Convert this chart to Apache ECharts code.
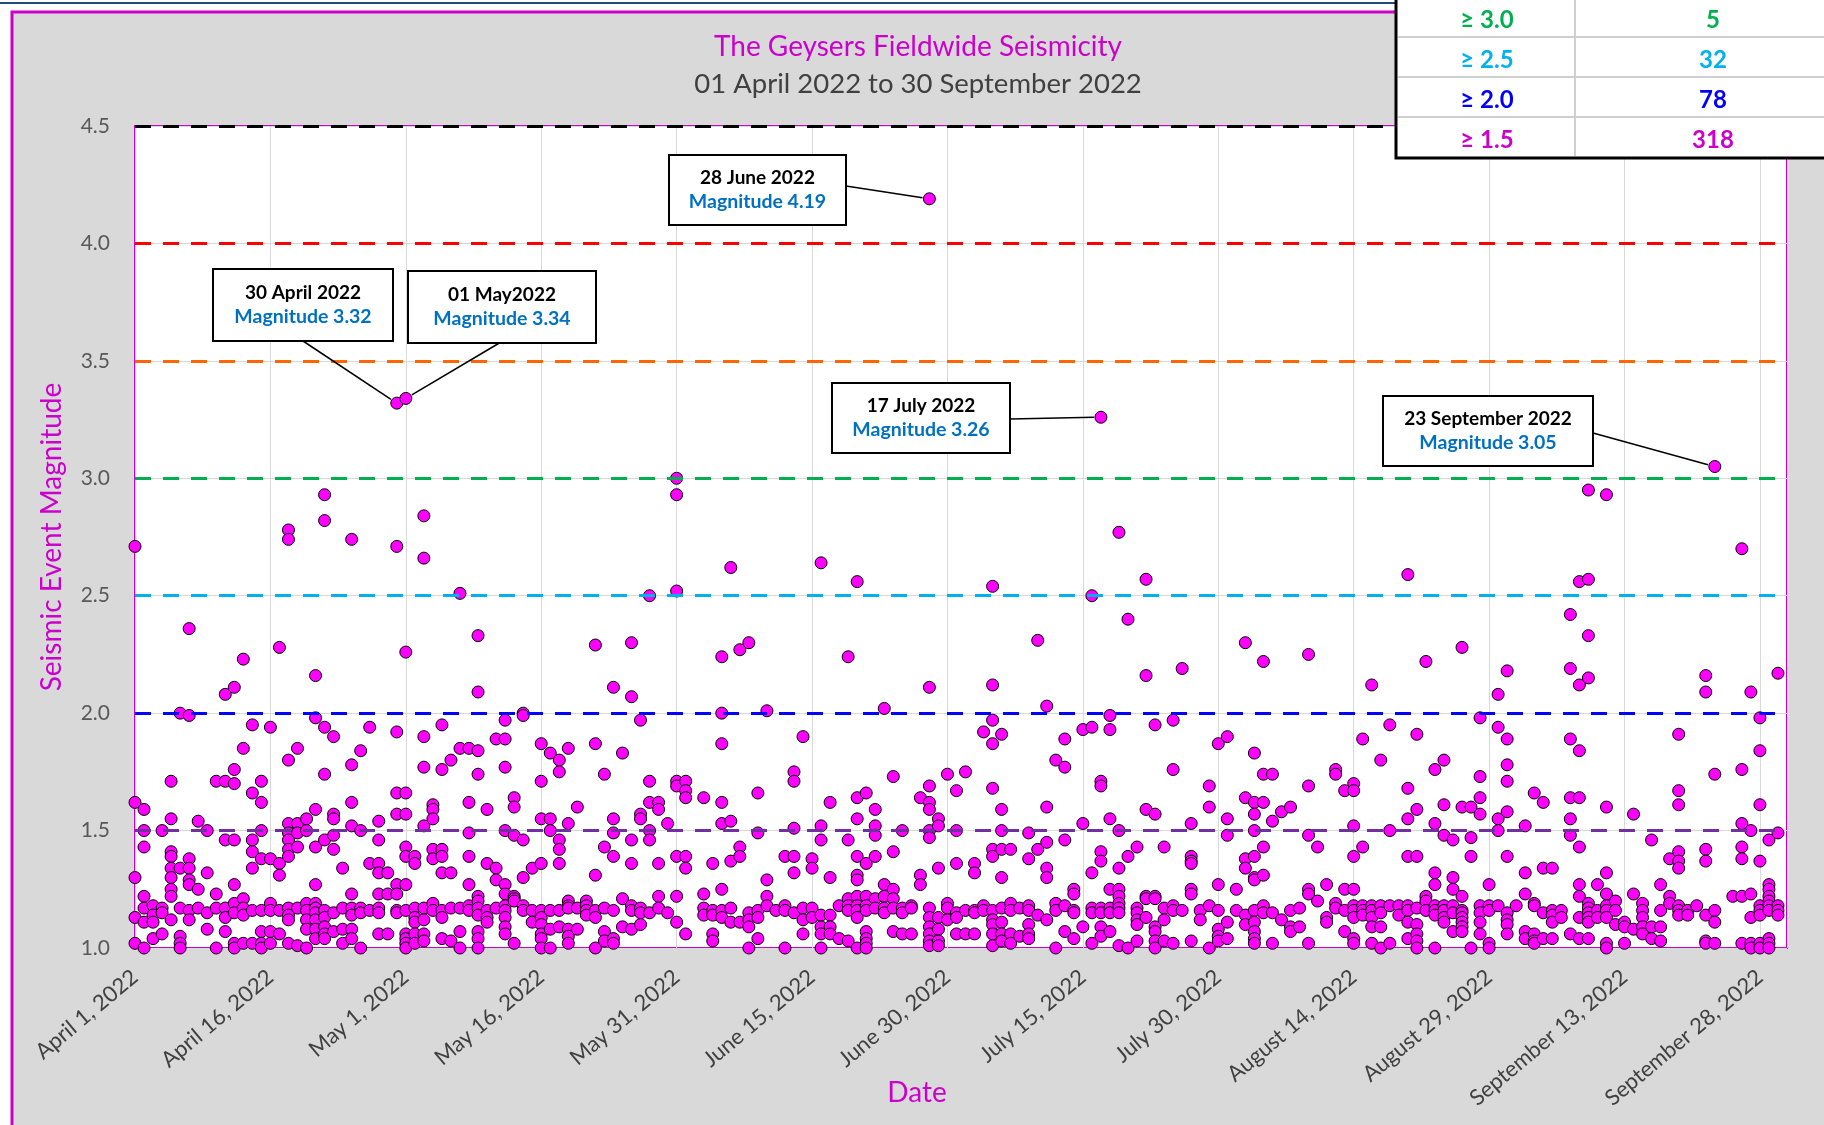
<!DOCTYPE html>
<html>
<head>
<meta charset="utf-8">
<title>The Geysers Fieldwide Seismicity</title>
<script src="https://cdn.jsdelivr.net/npm/echarts@6/dist/echarts.min.js"></script>
<style>
  html, body { margin: 0; padding: 0; background: #fff; }
  #main { width: 1824px; height: 1125px; }
</style>
</head>
<body>
<div id="main"></div>
<script>
// events per day: [day of month, magnitude, magnitude, ...]
const april = [
  [1, 2.71, 1.62, 1.30, 1.13, 1.02], [2, 1.59, 1.50, 1.43, 1.22, 1.17, 1.11, 1.00],
  [3, 1.18, 1.14, 1.11, 1.04], [4, 1.50, 1.17, 1.15, 1.06],
  [5, 1.71, 1.55, 1.41, 1.39, 1.34, 1.30, 1.25, 1.22, 1.12], [6, 2.00, 1.34, 1.17, 1.05, 1.02, 1.00],
  [7, 2.36, 1.99, 1.38, 1.34, 1.29, 1.27, 1.16, 1.12], [8, 1.54, 1.25, 1.17],
  [9, 1.50, 1.32, 1.15, 1.08], [10, 1.71, 1.23, 1.17, 1.00],
  [11, 2.08, 1.71, 1.46, 1.17, 1.13, 1.07], [12, 2.11, 1.76, 1.70, 1.46, 1.27, 1.19, 1.15, 1.02, 1.00],
  [13, 2.23, 1.85, 1.21, 1.17, 1.14, 1.02], [14, 1.95, 1.66, 1.46, 1.41, 1.34, 1.16, 1.02],
  [15, 1.71, 1.62, 1.50, 1.38, 1.16, 1.07, 1.02, 1.00], [16, 1.94, 1.38, 1.19, 1.16, 1.07, 1.02],
  [17, 2.28, 1.36, 1.31, 1.16, 1.06], [18, 2.78, 2.74, 1.80, 1.53, 1.49, 1.46, 1.42, 1.39, 1.17, 1.14, 1.12, 1.02],
  [19, 1.85, 1.53, 1.49, 1.43, 1.17, 1.01], [20, 1.55, 1.50, 1.19, 1.16, 1.12, 1.08, 1.00],
  [21, 2.16, 1.98, 1.59, 1.43, 1.27, 1.19, 1.17, 1.15, 1.12, 1.08, 1.04],
  [22, 2.93, 2.82, 1.94, 1.74, 1.46, 1.16, 1.13, 1.09, 1.06, 1.04],
  [23, 1.90, 1.57, 1.55, 1.48, 1.42, 1.15, 1.07], [24, 1.34, 1.17, 1.08, 1.02],
  [25, 2.74, 1.78, 1.62, 1.52, 1.23, 1.17, 1.14, 1.08, 1.04], [26, 1.84, 1.50, 1.17, 1.15, 1.00],
  [27, 1.94, 1.36, 1.16], [28, 1.54, 1.46, 1.36, 1.32, 1.23, 1.17, 1.15, 1.06],
  [29, 1.32, 1.23, 1.06], [30, 3.32, 2.71, 1.92, 1.66, 1.57, 1.27, 1.23, 1.16, 1.15]
];
const may = [
  [1, 3.34, 2.26, 1.66, 1.57, 1.43, 1.39, 1.27, 1.16, 1.06, 1.04, 1.02, 1.00],
  [2, 1.39, 1.36, 1.17, 1.13, 1.11, 1.06, 1.02], [3, 2.84, 2.66, 1.90, 1.77, 1.52, 1.17, 1.12, 1.06, 1.03],
  [4, 1.61, 1.59, 1.55, 1.42, 1.38, 1.19, 1.16], [5, 1.95, 1.76, 1.42, 1.39, 1.32, 1.16, 1.13, 1.04],
  [6, 1.80, 1.32, 1.17, 1.03], [7, 2.51, 1.85, 1.17, 1.07, 1.00],
  [8, 1.85, 1.62, 1.49, 1.39, 1.27, 1.18, 1.16], [9, 2.33, 2.09, 1.84, 1.74, 1.22, 1.20, 1.17, 1.14, 1.07, 1.04, 1.00],
  [10, 1.59, 1.36, 1.16, 1.13, 1.11], [11, 1.89, 1.34, 1.29, 1.17],
  [12, 1.97, 1.89, 1.77, 1.50, 1.27, 1.23, 1.18, 1.16, 1.13, 1.09, 1.06],
  [13, 1.64, 1.60, 1.48, 1.22, 1.21, 1.20, 1.02], [14, 2.00, 1.99, 1.46, 1.30, 1.18, 1.16],
  [15, 1.34, 1.16, 1.11], [16, 1.87, 1.71, 1.55, 1.36, 1.16, 1.13, 1.10, 1.06, 1.04, 1.00],
  [17, 1.83, 1.55, 1.50, 1.16, 1.08, 1.00], [18, 1.80, 1.75, 1.46, 1.42, 1.36, 1.16, 1.09],
  [19, 1.85, 1.53, 1.20, 1.18, 1.17, 1.08, 1.05, 1.02], [20, 1.60, 1.17, 1.08],
  [21, 1.20, 1.18, 1.16, 1.14], [22, 2.29, 1.87, 1.31, 1.16, 1.13, 1.00],
  [23, 1.74, 1.43, 1.17, 1.07, 1.03], [24, 2.11, 1.55, 1.49, 1.39, 1.16, 1.04, 1.02],
  [25, 1.83, 1.21, 1.09], [26, 2.30, 2.07, 1.46, 1.36, 1.18, 1.16, 1.08],
  [27, 1.97, 1.57, 1.55, 1.17, 1.15, 1.10], [28, 2.50, 1.71, 1.62, 1.50, 1.46, 1.15],
  [29, 1.62, 1.59, 1.36, 1.22, 1.17], [30, 1.53, 1.15],
  [31, 3.00, 2.93, 2.52, 1.71, 1.69, 1.39, 1.22, 1.11]
];
const june = [
  [1, 1.71, 1.67, 1.64, 1.39, 1.34, 1.06], [3, 1.64, 1.23, 1.17, 1.14],
  [4, 1.36, 1.16, 1.14, 1.06, 1.03], [5, 2.24, 2.00, 1.87, 1.62, 1.53, 1.25, 1.16, 1.13],
  [6, 2.62, 1.54, 1.37, 1.17, 1.11], [7, 2.27, 1.43, 1.39, 1.11],
  [8, 2.30, 1.15, 1.12, 1.09, 1.00], [9, 1.66, 1.49, 1.16, 1.13, 1.04],
  [10, 2.01, 1.29, 1.22, 1.18], [11, 1.16], [12, 1.39, 1.18, 1.16, 1.00],
  [13, 1.75, 1.71, 1.51, 1.39, 1.32, 1.15], [14, 1.90, 1.17, 1.12, 1.06],
  [15, 1.38, 1.34, 1.17, 1.13], [16, 2.64, 1.52, 1.46, 1.14, 1.09, 1.06, 1.00],
  [17, 1.62, 1.30, 1.14, 1.09, 1.06], [18, 1.18, 1.04],
  [19, 2.24, 1.46, 1.21, 1.18, 1.16, 1.03],
  [20, 2.56, 1.64, 1.55, 1.39, 1.31, 1.29, 1.22, 1.18, 1.16, 1.13, 1.00],
  [21, 1.66, 1.36, 1.22, 1.18, 1.16, 1.07, 1.04, 1.02, 1.00],
  [22, 1.59, 1.52, 1.48, 1.39, 1.21, 1.17], [23, 2.02, 1.27, 1.22, 1.17, 1.15],
  [24, 1.73, 1.41, 1.25, 1.21, 1.17, 1.07], [25, 1.50, 1.17, 1.15, 1.06],
  [26, 1.18, 1.17, 1.06], [27, 1.64, 1.31, 1.27],
  [28, 4.19, 2.11, 1.69, 1.62, 1.59, 1.50, 1.47, 1.17, 1.13, 1.09, 1.06, 1.03, 1.01],
  [29, 1.55, 1.52, 1.34, 1.13, 1.08, 1.03, 1.01], [30, 1.74, 1.19, 1.17, 1.12]
];
const july = [
  [1, 1.67, 1.50, 1.36, 1.15, 1.13, 1.06], [2, 1.75, 1.16, 1.06],
  [3, 1.36, 1.32, 1.16, 1.15, 1.06], [4, 1.92, 1.18, 1.16],
  [5, 2.54, 2.12, 1.97, 1.87, 1.68, 1.42, 1.39, 1.16, 1.12, 1.10, 1.06, 1.01],
  [6, 1.91, 1.59, 1.50, 1.42, 1.30, 1.17, 1.11, 1.06, 1.03], [7, 1.42, 1.19, 1.16, 1.06, 1.02],
  [8, 1.17, 1.05], [9, 1.49, 1.38, 1.18, 1.16, 1.10, 1.06, 1.04], [10, 2.31, 1.42, 1.14],
  [11, 2.03, 1.60, 1.45, 1.34, 1.30, 1.12], [12, 1.80, 1.19, 1.16, 1.00],
  [13, 1.89, 1.77, 1.46, 1.18, 1.07], [14, 1.25, 1.23, 1.16, 1.15, 1.04],
  [15, 1.93, 1.53, 1.09], [16, 2.50, 1.94, 1.32, 1.17, 1.15, 1.02],
  [17, 3.26, 1.71, 1.69, 1.41, 1.37, 1.17, 1.15, 1.09, 1.05],
  [18, 1.99, 1.93, 1.55, 1.25, 1.17, 1.15, 1.07],
  [19, 2.77, 1.50, 1.34, 1.25, 1.22, 1.19, 1.17, 1.15, 1.01], [20, 2.40, 1.39, 1.00],
  [21, 1.43, 1.17, 1.15, 1.12, 1.10, 1.03], [22, 2.57, 2.16, 1.59, 1.22, 1.21, 1.13],
  [23, 1.95, 1.57, 1.22, 1.21, 1.09, 1.07, 1.03, 1.00], [24, 1.43, 1.17, 1.12, 1.03],
  [25, 1.97, 1.76, 1.18, 1.16, 1.02], [26, 2.19, 1.16],
  [27, 1.53, 1.39, 1.37, 1.36, 1.25, 1.23, 1.03], [28, 1.16, 1.12],
  [29, 1.69, 1.60, 1.18, 1.00], [30, 1.87, 1.27, 1.16, 1.08, 1.05, 1.03],
  [31, 1.90, 1.55, 1.48, 1.11, 1.04]
];
const august = [
  [1, 1.25, 1.16], [2, 2.30, 1.64, 1.38, 1.34, 1.14, 1.10],
  [3, 1.83, 1.62, 1.57, 1.50, 1.39, 1.30, 1.29, 1.16, 1.11, 1.07, 1.04, 1.02],
  [4, 2.22, 1.74, 1.62, 1.43, 1.31, 1.18, 1.15], [5, 1.74, 1.54, 1.15, 1.02],
  [6, 1.58, 1.12], [7, 1.60, 1.16, 1.09, 1.07], [8, 1.17, 1.09],
  [9, 2.25, 1.69, 1.48, 1.25, 1.23, 1.02], [10, 1.43, 1.20], [11, 1.27, 1.13, 1.11],
  [12, 1.76, 1.74, 1.19, 1.17], [13, 1.67, 1.25, 1.16, 1.07],
  [14, 1.70, 1.67, 1.52, 1.39, 1.25, 1.18, 1.16, 1.13, 1.04, 1.02],
  [15, 1.89, 1.43, 1.18, 1.16, 1.14], [16, 2.12, 1.18, 1.16, 1.13, 1.09, 1.02],
  [17, 1.80, 1.18, 1.15, 1.09, 1.00], [18, 1.95, 1.50, 1.18, 1.02], [19, 1.18, 1.14],
  [20, 2.59, 1.68, 1.55, 1.39, 1.18, 1.16, 1.11, 1.04],
  [21, 1.91, 1.59, 1.39, 1.17, 1.10, 1.06, 1.03, 1.00], [22, 2.22, 1.22, 1.20, 1.16],
  [23, 1.76, 1.53, 1.32, 1.27, 1.18, 1.16, 1.14, 1.00],
  [24, 1.80, 1.61, 1.48, 1.18, 1.16, 1.13, 1.11], [25, 1.46, 1.30, 1.25, 1.18, 1.15, 1.07],
  [26, 2.28, 1.60, 1.22, 1.16, 1.15, 1.13, 1.11, 1.09, 1.07], [27, 1.60, 1.47, 1.39, 1.00],
  [28, 1.98, 1.73, 1.64, 1.57, 1.18, 1.15, 1.11, 1.06], [29, 1.27, 1.18, 1.16, 1.02, 1.00],
  [30, 2.08, 1.94, 1.55, 1.50, 1.18],
  [31, 2.18, 1.89, 1.78, 1.71, 1.58, 1.39, 1.15, 1.12, 1.10, 1.06]
];
const september = [
  [1, 1.18], [2, 1.52, 1.32, 1.23, 1.07, 1.04], [3, 1.66, 1.19, 1.18, 1.06, 1.03, 1.02],
  [4, 1.62, 1.34, 1.15, 1.04], [5, 1.34, 1.16, 1.14, 1.11, 1.04], [6, 1.16, 1.13],
  [7, 2.42, 2.19, 1.89, 1.64, 1.55, 1.48, 1.06],
  [8, 2.56, 2.12, 1.84, 1.64, 1.43, 1.27, 1.22, 1.13, 1.04],
  [9, 2.95, 2.57, 2.33, 2.15, 1.19, 1.17, 1.15, 1.13, 1.11, 1.04], [10, 1.27, 1.16, 1.13],
  [11, 2.93, 1.60, 1.32, 1.23, 1.18, 1.16, 1.13, 1.02, 1.00], [12, 1.20, 1.16, 1.10],
  [13, 1.11, 1.09, 1.02], [14, 1.57, 1.23, 1.08], [15, 1.19, 1.16, 1.13, 1.09, 1.06],
  [16, 1.46, 1.09, 1.04], [17, 1.27, 1.16, 1.09, 1.03], [18, 1.38, 1.22, 1.19],
  [19, 1.91, 1.67, 1.61, 1.41, 1.37, 1.34, 1.18, 1.16, 1.14], [20, 1.16, 1.14], [21, 1.18],
  [22, 2.16, 2.09, 1.42, 1.37, 1.14, 1.03, 1.02], [23, 3.05, 1.74, 1.16, 1.11, 1.02],
  [25, 1.22], [26, 2.70, 1.76, 1.53, 1.43, 1.38, 1.22, 1.02],
  [27, 2.09, 1.50, 1.23, 1.13, 1.02, 1.00],
  [28, 1.98, 1.84, 1.61, 1.37, 1.18, 1.16, 1.14, 1.02, 1.00],
  [29, 1.46, 1.27, 1.25, 1.22, 1.20, 1.18, 1.16, 1.04, 1.02, 1.00],
  [30, 2.17, 1.49, 1.18, 1.16, 1.14]
];

// magnitude threshold lines
const thresholds = [4.5, 4.0, 3.5, 3.0, 2.5, 2.0, 1.5];
const thresholdColors = ['#000000', '#ff0000', '#ff6600', '#00b050', '#00b0f0', '#0000ff', '#7030a0'];

// count table (top right)
const tableLabels = ['\u2265 3.0', '\u2265 2.5', '\u2265 2.0', '\u2265 1.5'];
const tableCounts = [5, 32, 78, 318];
const tableColors = ['#00b050', '#00b0f0', '#0000ff', '#cc00cc'];

// callouts: date, magnitude, label
const callouts = [
  { date: [6, 28], mag: 4.19, label: '28 June 2022', box: [669, 155, 177, 70], from: [846, 186] },
  { date: [4, 30], mag: 3.32, label: '30 April 2022', box: [213, 269, 180, 72], from: [303, 341] },
  { date: [5, 1], mag: 3.34, label: '01 May2022', box: [408, 271, 188, 72], from: [501, 342] },
  { date: [7, 17], mag: 3.26, label: '17 July 2022', box: [832, 383, 178, 70], from: [1010, 419] },
  { date: [9, 23], mag: 3.05, label: '23 September 2022', box: [1383, 396, 210, 70], from: [1593, 433] }
];

const monthNames = ['January', 'February', 'March', 'April', 'May', 'June', 'July',
  'August', 'September', 'October', 'November', 'December'];
const START = Date.UTC(2022, 3, 1);
const DAY = 86400000;
const FONT = 'Lato, "Liberation Sans", sans-serif';
const MAGENTA = '#cc00cc';

function dayIndex(m, d) {
  return (Date.UTC(2022, m - 1, d) - START) / DAY;
}

const points = [];
[[april, 4], [may, 5], [june, 6], [july, 7], [august, 8], [september, 9]].forEach(([rows, m]) => {
  rows.forEach(row => {
    for (let i = 1; i < row.length; i++) points.push([dayIndex(m, row[0]), row[i]]);
  });
});

const chart = echarts.init(document.getElementById('main'));

const option = {
  animation: false,
  backgroundColor: '#ffffff',
  textStyle: { fontFamily: FONT },
  grid: {
    left: 135, right: 37, top: 126, bottom: 177,
    outerBoundsMode: 'none', containLabel: false,
    show: true, backgroundColor: '#ffffff', borderColor: MAGENTA, borderWidth: 2
  },
  xAxis: {
    type: 'value', min: 0, max: 183, interval: 15,
    name: 'Date', nameLocation: 'middle', nameGap: 131, nameMoveOverlap: false,
    nameTextStyle: { color: MAGENTA, fontSize: 28, fontFamily: FONT, padding: [0, 88, 0, 0] },
    axisLine: { show: false }, axisTick: { show: false },
    splitLine: { lineStyle: { color: '#d9d9d9', width: 1 } },
    axisLabel: {
      rotate: 40, margin: 26, fontSize: 22, color: '#404040', fontFamily: FONT,
      showMaxLabel: false,
      formatter: v => {
        if (v % 15 !== 0) return '';
        const d = new Date(START + v * DAY);
        return monthNames[d.getUTCMonth()] + ' ' + d.getUTCDate() + ', ' + d.getUTCFullYear();
      }
    }
  },
  yAxis: {
    type: 'value', min: 1, max: 4.5, interval: 0.5,
    name: 'Seismic Event Magnitude', nameLocation: 'middle', nameGap: 69,
    nameTextStyle: { color: MAGENTA, fontSize: 28, fontFamily: FONT },
    axisLine: { show: false }, axisTick: { show: false },
    splitLine: { lineStyle: { color: '#d9d9d9', width: 1 } },
    axisLabel: { margin: 25, fontSize: 21, color: '#595959', fontFamily: FONT, formatter: v => v.toFixed(1) }
  },
  series: [{
    type: 'scatter',
    data: points,
    symbolSize: 12,
    itemStyle: { color: '#ff00ff', borderColor: '#000000', borderWidth: 1, opacity: 1 },
    markLine: {
      silent: true, symbol: ['none', 'none'], label: { show: false },
      data: thresholds.map((v, i) => ({ yAxis: v, lineStyle: { color: thresholdColors[i], type: [16, 12], width: 3 } }))
    },
    z: 3
  }]
};
chart.setOption(option);

// graphic layer: frame, titles, table, callouts
const elements = [
  { type: 'rect', z: -100, shape: { x: 12, y: 12, width: 1830, height: 1130 },
    style: { fill: '#d9d9d9', stroke: MAGENTA, lineWidth: 3 } },
  { type: 'line', z: -100, shape: { x1: 0, y1: 3, x2: 1824, y2: 3 }, style: { stroke: '#1f4e79', lineWidth: 2 } },
  { type: 'text', z: 10, style: { text: 'The Geysers Fieldwide Seismicity', x: 918, y: 47, textAlign: 'center',
    textVerticalAlign: 'middle', font: '28px ' + FONT, fill: MAGENTA } },
  { type: 'text', z: 10, style: { text: '01 April 2022 to 30 September 2022', x: 918, y: 84, textAlign: 'center',
    textVerticalAlign: 'middle', font: '27.5px ' + FONT, fill: '#404040' } }
];

// table
elements.push({ type: 'rect', z: 100, shape: { x: 1396, y: -5, width: 460, height: 163 },
  style: { fill: '#ffffff', stroke: '#000000', lineWidth: 3 } });
[37, 77, 117].forEach(y => elements.push({ type: 'line', z: 101,
  shape: { x1: 1398, y1: y, x2: 1824, y2: y }, style: { stroke: '#d0d0d0', lineWidth: 2 } }));
elements.push({ type: 'line', z: 101, shape: { x1: 1575, y1: 0, x2: 1575, y2: 156 },
  style: { stroke: '#d0d0d0', lineWidth: 2 } });
tableLabels.forEach((t, i) => {
  const y = 20 + i * 40;
  elements.push({ type: 'text', z: 102, style: { text: t, x: 1487, y, textAlign: 'center', textVerticalAlign: 'middle',
    font: 'bold 24px ' + FONT, fill: tableColors[i] } });
  elements.push({ type: 'text', z: 102, style: { text: String(tableCounts[i]), x: 1713, y, textAlign: 'center',
    textVerticalAlign: 'middle', font: 'bold 24px ' + FONT, fill: tableColors[i] } });
});

// callouts, connector drawn to the point's position on the axes
callouts.forEach(c => {
  const [bx, by, bw, bh] = c.box;
  const p = chart.convertToPixel({ gridIndex: 0 }, [dayIndex(c.date[0], c.date[1]), c.mag]);
  const dx = p[0] - c.from[0], dy = p[1] - c.from[1];
  const len = Math.sqrt(dx * dx + dy * dy);
  const k = (len - 7) / len;
  elements.push({ type: 'line', z: 90, shape: { x1: c.from[0], y1: c.from[1], x2: c.from[0] + dx * k, y2: c.from[1] + dy * k },
    style: { stroke: '#000000', lineWidth: 1.5 } });
  elements.push({ type: 'rect', z: 91, shape: { x: bx, y: by, width: bw, height: bh },
    style: { fill: '#ffffff', stroke: '#000000', lineWidth: 2 } });
  elements.push({ type: 'text', z: 92, style: { text: c.label, x: bx + bw / 2, y: by + bh / 2 - 12, textAlign: 'center',
    textVerticalAlign: 'middle', font: 'bold 19px ' + FONT, fill: '#000000' } });
  elements.push({ type: 'text', z: 92, style: { text: 'Magnitude ' + c.mag.toFixed(2), x: bx + bw / 2, y: by + bh / 2 + 12,
    textAlign: 'center', textVerticalAlign: 'middle', font: 'bold 19.5px ' + FONT, fill: '#0070c0' } });
});

chart.setOption({ graphic: { elements } });
</script>
</body>
</html>
